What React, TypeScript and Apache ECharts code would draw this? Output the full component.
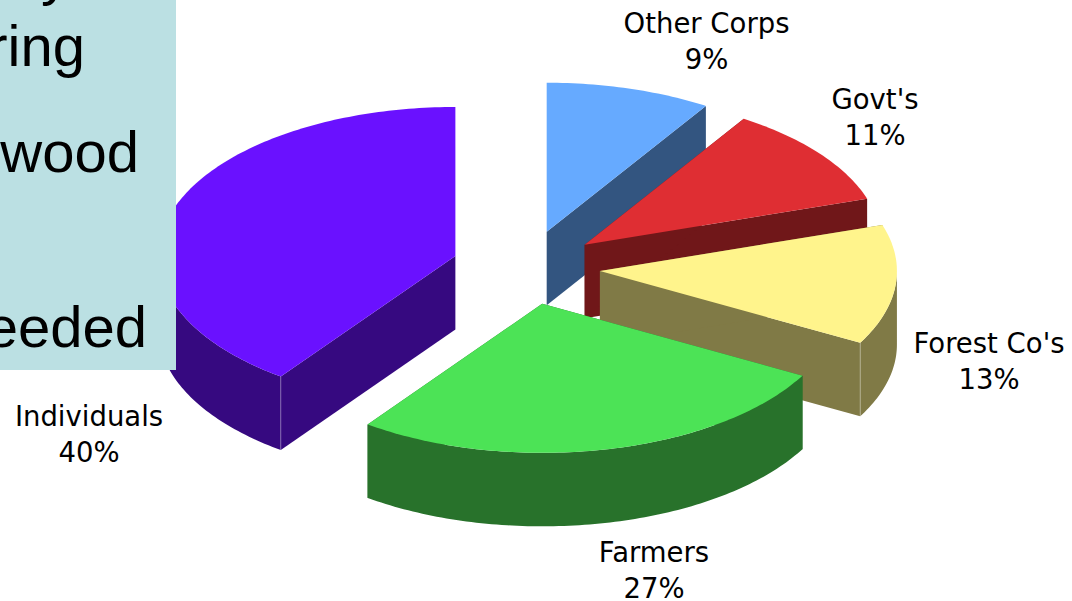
import React, { useEffect, useRef } from "react";
import * as echarts from "echarts";

const categories = ["Other Corps", "Govt's", "Forest Co's", "Farmers", "Individuals"];
const shares = [9, 11, 13, 27, 40];
const topColors = ["#66AAFF", "#DF2E33", "#FFF48C", "#4CE356", "#6A11FF"];
const sideColors = ["#335580", "#701719", "#807A46", "#28722B", "#360980"];
const labelCentres = [
  [706.5, 40.5],
  [875, 116.5],
  [989, 360.5],
  [654, 569.5],
  [89, 434],
];
const noteFragments = [
  { text: "y", right: 70, baseline: -6 },
  { text: "ring", right: 85, baseline: 66 },
  { text: "wood", right: 139, baseline: 172 },
  { text: "eeded", right: 147, baseline: 347 },
];

const CX = 526;
const CY = 267.5;
const RX = 297;
const RY = 149;
const DEPTH = 73.5;
const EXPLODE = 0.25;
const NOTE_ASCENT = 50;

const total = shares.reduce((a, b) => a + b, 0);

function sliceAngles(index: number) {
  let before = 0;
  for (let i = 0; i < index; i++) before += shares[i];
  const start = (before / total) * 360;
  const end = ((before + shares[index]) / total) * 360;
  return { start, end };
}

const rad = (d: number) => (d * Math.PI) / 180;

function renderSlice(params: any, api: any) {
  const index = params.dataIndex;
  const { start, end } = sliceAngles(index);
  const mid = rad((start + end) / 2);
  const ax = CX + RX * EXPLODE * Math.sin(mid);
  const ay = CY - RY * EXPLODE * Math.cos(mid);
  const at = (deg: number, drop = 0): number[] => [
    ax + RX * Math.sin(rad(deg)),
    ay - RY * Math.cos(rad(deg)) + drop,
  ];
  const side = sideColors[index];
  const top = topColors[index];
  const children: any[] = [];
  const poly = (points: number[][], fill: string) => ({
    type: "polygon",
    shape: { points },
    style: { fill, stroke: null },
  });
  children.push(poly([[ax, ay], at(end), at(end, DEPTH), [ax, ay + DEPTH]], side));
  children.push(poly([[ax, ay], at(start), at(start, DEPTH), [ax, ay + DEPTH]], side));
  const rimFrom = Math.max(start, 90);
  const rimTo = Math.min(end, 270);
  if (rimTo > rimFrom) {
    const upper: number[][] = [];
    const lower: number[][] = [];
    for (let d = rimFrom; d < rimTo; d += 1) {
      upper.push(at(d));
      lower.unshift(at(d, DEPTH));
    }
    upper.push(at(rimTo));
    lower.unshift(at(rimTo, DEPTH));
    children.push(poly(upper.concat(lower), side));
  }
  const outline: number[][] = [[ax, ay]];
  for (let d = start; d < end; d += 1) outline.push(at(d));
  outline.push(at(end));
  children.push(poly(outline, top));
  [start, end].forEach((deg) => {
    const visibleCorner =
      (deg === end && deg > 90 && deg < 180 && start < 90) ||
      (deg === start && deg > 180 && deg < 270 && end > 270);
    if (visibleCorner) {
      const p = at(deg);
      children.push({
        type: "line",
        shape: { x1: p[0], y1: p[1], x2: p[0], y2: p[1] + DEPTH },
        style: { stroke: "rgba(255,255,255,0.3)", lineWidth: 1 },
      });
    }
  });
  const [lx, ly] = labelCentres[index];
  children.push({
    type: "text",
    x: lx,
    y: ly,
    style: {
      text: `${categories[index]}\n${api.value(0)}%`,
      fill: "#000000",
      font: '27.5px "DejaVu Sans"',
      lineHeight: 36,
      align: "center",
      verticalAlign: "middle",
    },
  });
  return { type: "group", children };
}

export default function App() {
  const ref = useRef<HTMLDivElement>(null);
  useEffect(() => {
    const chart = echarts.init(ref.current!, null, { renderer: "svg" });
    chart.setOption({
      animation: false,
      backgroundColor: "#ffffff",
      series: [
        {
          type: "custom",
          coordinateSystem: "none",
          renderItem: renderSlice,
          data: shares.map((v, i) => ({ name: categories[i], value: [v] })),
          silent: true,
          clip: false,
        },
      ],
      graphic: [
        {
          type: "rect",
          z: 100,
          silent: true,
          shape: { x: 0, y: 0, width: 176, height: 370 },
          style: { fill: "#BBE0E3" },
        },
        ...noteFragments.map((f) => ({
          type: "text",
          z: 101,
          silent: true,
          x: f.right,
          y: f.baseline - NOTE_ASCENT,
          style: {
            text: f.text,
            fill: "#000000",
            font: '58px "Liberation Sans"',
            align: "right",
            verticalAlign: "top",
          },
        })),
      ],
    });
    return () => chart.dispose();
  }, []);
  return (
    <div
      ref={ref}
      style={{ position: "absolute", left: 0, top: 0, width: 1072, height: 601 }}
    />
  );
}
